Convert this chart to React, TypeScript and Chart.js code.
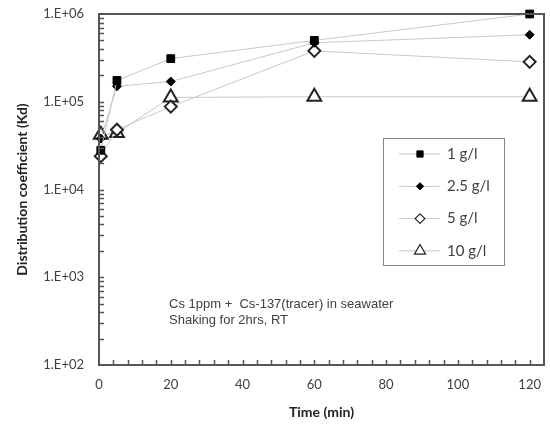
import React, { useEffect, useRef } from "react";
import { Chart, registerables } from "chart.js";

Chart.register(...registerables);

const times = [0.5, 5, 20, 60, 120];
const seriesNames = ["1 g/l", "2.5 g/l", "5 g/l", "10 g/l"];
const kd1 = [2.8e4, 1.75e5, 3.1e5, 5.0e5, 1.0e6];
const kd25 = [3.8e4, 1.5e5, 1.7e5, 4.7e5, 5.8e5];
const kd5 = [2.4e4, 4.8e4, 8.8e4, 3.8e5, 2.85e5];
const kd10 = [4.2e4, 4.4e4, 1.12e5, 1.14e5, 1.14e5];
const xMajorTicks = [0, 20, 40, 60, 80, 100, 120];
const yMajorTicks = [1e2, 1e3, 1e4, 1e5, 1e6];
const annotationLines = ["Cs 1ppm +  Cs-137(tracer) in seawater", "Shaking for 2hrs, RT"];

const LINE = "#c8c8c8";
const AXIS = "#555555";
const TEXT = "#404040";
const TICKFONT = "Lato, 'Open Sans', sans-serif";

const styles = [
  { pointStyle: "rect", radius: 5.5, bg: "#000", border: "#000", bw: 1 },
  { pointStyle: "rectRot", radius: 4.5, bg: "#000", border: "#000", bw: 1 },
  { pointStyle: "rectRot", radius: 6, bg: "#fff", border: "#222", bw: 2 },
  { pointStyle: "triangle", radius: 8, bg: "#fff", border: "#222", bw: 2 },
];

const seriesValues = [kd1, kd25, kd5, kd10];

function drawMarker(ctx: CanvasRenderingContext2D, style: string, r: number, x: number, y: number) {
  ctx.beginPath();
  if (style === "rect") {
    const s = r * Math.SQRT1_2;
    ctx.rect(x - s, y - s, 2 * s, 2 * s);
  } else if (style === "rectRot") {
    ctx.moveTo(x, y - r);
    ctx.lineTo(x + r, y);
    ctx.lineTo(x, y + r);
    ctx.lineTo(x - r, y);
    ctx.closePath();
  } else {
    ctx.moveTo(x, y - r);
    ctx.lineTo(x + r * 0.866, y + r * 0.5);
    ctx.lineTo(x - r * 0.866, y + r * 0.5);
    ctx.closePath();
  }
  ctx.fill();
  ctx.stroke();
}

const overlayPlugin = {
  id: "overlay",
  afterDraw(chart: any) {
    const { ctx, chartArea: a, scales } = chart;
    const xs = scales.x;
    const ys = scales.y;
    ctx.save();
    ctx.strokeStyle = AXIS;
    ctx.lineWidth = 2;
    ctx.strokeRect(a.left, a.top, a.right - a.left, a.bottom - a.top);
    ctx.lineWidth = 1.5;
    ctx.beginPath();
    for (let v = 0; v <= 124; v += 4) {
      const px = Math.round(xs.getPixelForValue(v)) + 0.5;
      if (px <= a.left + 1 || px >= a.right - 1) continue;
      ctx.moveTo(px, a.bottom);
      ctx.lineTo(px, a.bottom - 5);
    }
    for (let d = 0; d < yMajorTicks.length - 1; d++) {
      for (let m = 1; m <= 9; m++) {
        const v = yMajorTicks[d] * m;
        const py = Math.round(ys.getPixelForValue(v)) + 0.5;
        if (py >= a.bottom - 1 || py <= a.top + 1) continue;
        ctx.moveTo(a.left, py);
        ctx.lineTo(a.left + 5, py);
      }
    }
    ctx.stroke();

    ctx.fillStyle = TEXT;
    ctx.font = "13px 'Liberation Sans', Arial, sans-serif";
    ctx.textBaseline = "middle";
    ctx.textAlign = "left";
    annotationLines.forEach((t, i) => ctx.fillText(t, 169, 304 + i * 16));

    const lx = 383, ly = 138, lw = 121, lh = 127;
    ctx.strokeStyle = "#888";
    ctx.lineWidth = 1;
    ctx.strokeRect(lx + 0.5, ly + 0.5, lw, lh);
    ctx.font = "15px Lato, 'Open Sans', sans-serif";
    seriesNames.forEach((name, i) => {
      const y = 154 + i * 32.3;
      ctx.strokeStyle = LINE;
      ctx.lineWidth = 1;
      ctx.beginPath();
      ctx.moveTo(399, y);
      ctx.lineTo(440, y);
      ctx.stroke();
      const s = styles[i];
      ctx.fillStyle = s.bg;
      ctx.strokeStyle = s.border;
      ctx.lineWidth = s.bw === 2 ? 1.2 : 1;
      drawMarker(ctx, s.pointStyle, s.radius * 0.8, 420, y);
      ctx.fillStyle = TEXT;
      ctx.fillText(name, 447, y);
    });
    ctx.restore();
  },
};

export default function App() {
  const ref = useRef<HTMLCanvasElement>(null);
  useEffect(() => {
    if (!ref.current) return;
    const chart = new Chart(ref.current, {
      type: "line",
      data: {
        datasets: seriesNames.map((name, i) => ({
          label: name,
          data: times.map((t, j) => ({ x: t, y: seriesValues[i][j] })),
          borderColor: LINE,
          borderWidth: 1,
          pointStyle: styles[i].pointStyle as any,
          pointRadius: styles[i].radius,
          pointBackgroundColor: styles[i].bg,
          pointBorderColor: styles[i].border,
          pointBorderWidth: styles[i].bw,
          tension: 0,
          clip: false as any,
        })),
      },
      options: {
        animation: false,
        responsive: false,
        layout: { padding: { left: 0, top: 14, right: 5, bottom: 0 } },
        plugins: { legend: { display: false }, tooltip: { enabled: false } },
        scales: {
          x: {
            type: "linear",
            min: 0,
            max: 124,
            afterBuildTicks: (scale: any) => {
              scale.ticks = xMajorTicks.map((v) => ({ value: v }));
            },
            ticks: {
              autoSkip: false,
              maxRotation: 0,
              color: TEXT,
              font: { family: TICKFONT, size: 13 },
              padding: 0,
            },
            grid: {
              display: true,
              drawOnChartArea: false,
              drawTicks: true,
              tickLength: 12,
              color: "rgba(0,0,0,0)",
            },
            border: { display: false },
            title: {
              display: true,
              text: "Time (min)",
              color: "#222",
              font: { family: TICKFONT, size: 14, weight: "bold" },
              padding: { top: 6, bottom: 6 },
            },
            afterFit: (scale: any) => {
              scale.height = 62;
            },
          },
          y: {
            type: "logarithmic",
            min: 100,
            max: 1e6,
            afterBuildTicks: (scale: any) => {
              scale.ticks = yMajorTicks.map((v) => ({ value: v }));
            },
            ticks: {
              autoSkip: false,
              color: TEXT,
              font: { family: TICKFONT, size: 13 },
              padding: 0,
              callback: (v: any) => "1.E+" + String(Math.round(Math.log10(Number(v)))).padStart(2, "0"),
            },
            grid: {
              display: true,
              drawOnChartArea: false,
              drawTicks: true,
              tickLength: 15,
              color: "rgba(0,0,0,0)",
            },
            border: { display: false },
            title: {
              display: true,
              text: "Distribution coefficient (Kd)",
              color: "#222",
              font: { family: TICKFONT, size: 14, weight: "bold" },
              padding: { top: 14, bottom: 6 },
            },
            afterFit: (scale: any) => {
              scale.width = 99;
            },
          },
        },
      },
      plugins: [overlayPlugin],
    });
    return () => chart.destroy();
  }, []);
  return (
    <div style={{ position: "fixed", left: 0, top: 0, width: 550, height: 427, background: "#fff", overflow: "hidden" }}>
      <canvas ref={ref} width={554} height={427} style={{ display: "block" }} />
    </div>
  );
}
